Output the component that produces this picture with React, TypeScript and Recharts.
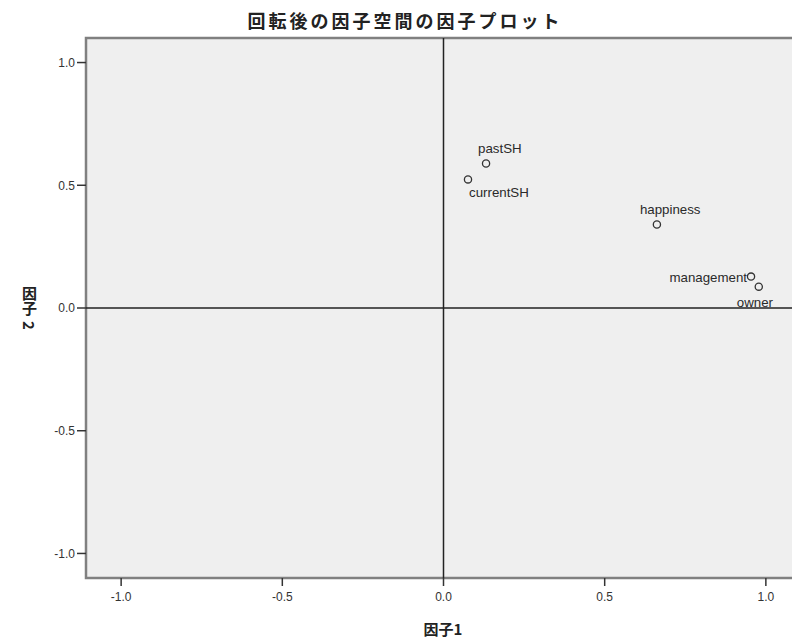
import React from 'react';
import { ScatterChart, Scatter, XAxis, YAxis, ReferenceLine, ReferenceArea } from 'recharts';

const variableNames = ['pastSH', 'currentSH', 'happiness', 'management', 'owner'];
const factor1Values = [0.132, 0.076, 0.662, 0.954, 0.978];
const factor2Values = [0.589, 0.524, 0.340, 0.128, 0.087];
const axisTicks = [-1.0, -0.5, 0.0, 0.5, 1.0];

const titleText = '回転後の因子空間の因子プロット';
const xAxisTitle = '因子1';
const yAxisTitleKanji = '因子';
const yAxisTitleNumber = '2';

const data = variableNames.map((name, i) => ({ name, x: factor1Values[i], y: factor2Values[i] }));

// label placement relative to marker (style only)
const labelPlacement: Record<string, { dx: number; dy: number; anchor: 'start' | 'end' | 'middle' }> = {
  pastSH: { dx: -8, dy: -10, anchor: 'start' },
  currentSH: { dx: 1, dy: 18, anchor: 'start' },
  happiness: { dx: -17, dy: -11, anchor: 'start' },
  management: { dx: -4, dy: 5, anchor: 'end' },
  owner: { dx: -22, dy: 20, anchor: 'start' },
};

const LATIN = '"Liberation Sans", Arial, sans-serif';
const CJK = '"Noto Sans CJK JP", "Noto Sans", sans-serif';

const PointShape = (props: any) => {
  const { cx, cy, payload } = props;
  const p = labelPlacement[payload.name] || { dx: 6, dy: -6, anchor: 'start' };
  return (
    <g>
      <circle cx={cx} cy={cy} r={3.6} fill="none" stroke="#333" strokeWidth={1.3} />
      <text
        x={cx + p.dx}
        y={cy + p.dy}
        textAnchor={p.anchor}
        fontFamily={LATIN}
        fontSize={13.3}
        fill="#2a2a2a"
      >
        {payload.name}
      </text>
    </g>
  );
};

export default function App() {
  return (
    <div style={{ position: 'absolute', left: 0, top: 0, width: 792, height: 640, overflow: 'hidden', background: '#fff' }}>
      <ScatterChart width={802} height={640} margin={{ top: 38, right: 1, bottom: 32, left: 0 }}>
        <XAxis
          type="number"
          dataKey="x"
          domain={[-1.109, 1.109]}
          allowDataOverflow
          ticks={axisTicks}
          tickFormatter={(v: number) => v.toFixed(1)}
          axisLine={false}
          tickLine={{ stroke: '#333', strokeWidth: 1.5 }}
          tickSize={8}
          tickMargin={6}
          height={30}
          tick={{ fill: '#333', fontSize: 12, fontFamily: LATIN }}
        />
        <YAxis
          type="number"
          dataKey="y"
          domain={[-1.1, 1.1]}
          allowDataOverflow
          ticks={axisTicks}
          tickFormatter={(v: number) => v.toFixed(1)}
          axisLine={false}
          tickLine={{ stroke: '#333', strokeWidth: 1.5 }}
          tickSize={9}
          tickMargin={2}
          width={86}
          tick={{ fill: '#333', fontSize: 12, fontFamily: LATIN }}
        />
        <ReferenceArea
          x1={-1.109}
          x2={1.109}
          y1={-1.1}
          y2={1.1}
          fill="#efefef"
          fillOpacity={1}
          stroke="#808080"
          strokeWidth={2.5}
          ifOverflow="visible"
        />
        <ReferenceLine x={0} stroke="#222" strokeWidth={1.5} />
        <ReferenceLine y={0} stroke="#222" strokeWidth={1.5} />
        <Scatter data={data} shape={PointShape} isAnimationActive={false} />
      </ScatterChart>
      <div
        style={{
          position: 'absolute',
          left: 0,
          width: 810,
          top: 8,
          textAlign: 'center',
          fontFamily: CJK,
          fontWeight: 700,
          fontSize: 18,
          letterSpacing: 3,
          color: '#222',
          lineHeight: '24px',
        }}
      >
        {titleText}
      </div>
      <div
        style={{
          position: 'absolute',
          left: 393,
          width: 100,
          top: 618,
          textAlign: 'center',
          fontFamily: CJK,
          fontWeight: 700,
          fontSize: 15,
          color: '#222',
          lineHeight: '22px',
        }}
      >
        {xAxisTitle}
      </div>
      <div
        style={{
          position: 'absolute',
          left: 20,
          top: 286,
          writingMode: 'vertical-rl',
          fontFamily: CJK,
          fontWeight: 700,
          fontSize: 15,
          color: '#222',
          lineHeight: '18px',
          whiteSpace: 'nowrap',
        }}
      >
        {yAxisTitleKanji}
        <span style={{ display: 'inline-block', writingMode: 'horizontal-tb', transform: 'rotate(90deg)', lineHeight: '15px', marginTop: 2 }}>
          {yAxisTitleNumber}
        </span>
      </div>
    </div>
  );
}
